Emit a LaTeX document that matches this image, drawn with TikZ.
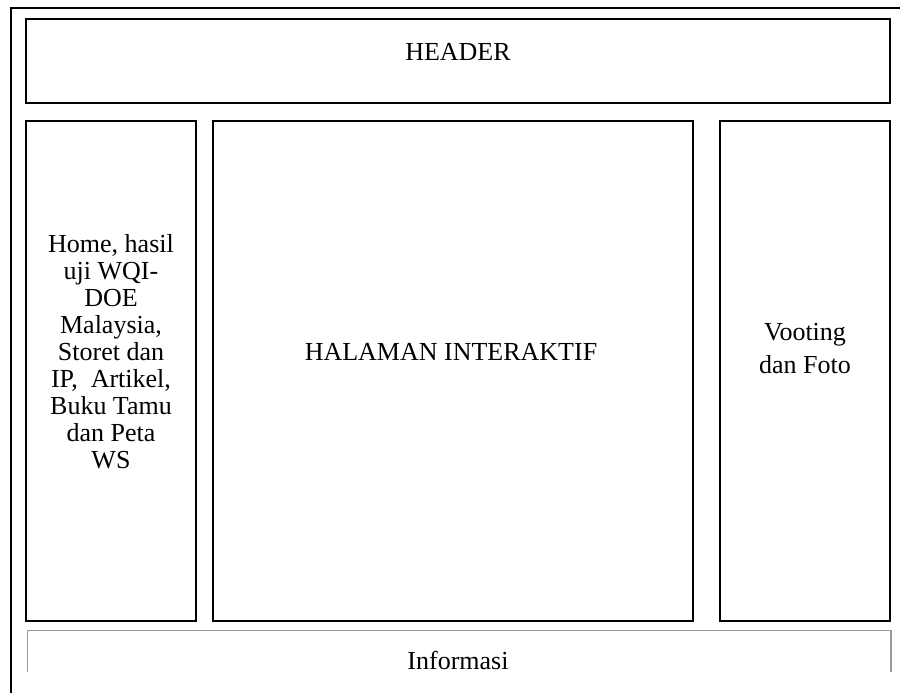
\documentclass[tikz,border=0pt]{standalone}
\usepackage{fontspec}
\setmainfont{Liberation Serif}
\usepackage{tikz}

\begin{document}
\begin{tikzpicture}[x=0.5pt,y=-0.5pt,
  box/.style={draw=black,line width=1pt},
  label/.style={font=\fontsize{13}{13.5}\selectfont,align=center}]

\useasboundingbox (0,0) rectangle (900,693);

% Outer frame
\draw[line width=1pt] (900,7.5) -- (10.5,7.5) -- (10.5,693);

% Header
\draw[box] (26,19) rectangle (890,103);
\node[label] (header) at (458,52) {HEADER};

% Left menu
\draw[box] (26,121) rectangle (196,621);
\node[label] (menu) at (111,352) {Home, hasil\\uji WQI-\\DOE\\Malaysia,\\Storet dan\\IP,\ \ Artikel,\\Buku Tamu\\dan Peta\\WS};

% Interactive page
\draw[box] (213,121) rectangle (693,621);
\node[label] (halaman) at (451,352) {HALAMAN INTERAKTIF};

% Right column
\draw[box] (720,121) rectangle (890,621);
\node[label,font=\fontsize{13}{16.5}\selectfont] (vooting) at (805,349) {Vooting\\dan Foto};

% Footer
\draw[gray!80,line width=0.6pt] (27.5,672) -- (27.5,630.5) -- (891,630.5) -- (891,672);
\node[label] (info) at (458,660) {Informasi};

\end{tikzpicture}
\end{document}
